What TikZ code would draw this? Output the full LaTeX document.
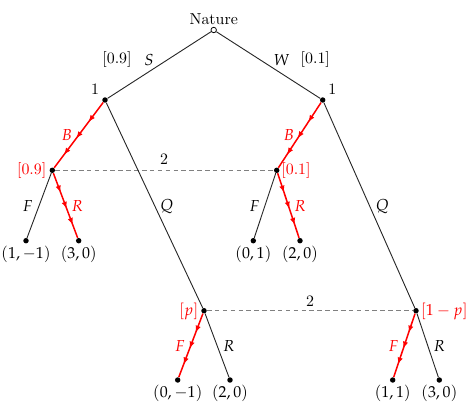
\documentclass[tikz,border=0pt]{standalone}
\usepackage{mathpazo}
\usetikzlibrary{arrows.meta,decorations.markings}

\tikzset{
    dot/.style={circle, fill=black, inner sep=0pt, minimum size=3.6pt},
    chance/.style={circle, draw=black, fill=white, line width=0.5pt, inner sep=0pt, minimum size=3.6pt},
    move/.style={line width=0.6pt, black!85},
    play/.style={red, line width=1pt, postaction={decorate},
        decoration={markings,
            mark=at position 0.3 with {\arrow{Latex[length=4.6pt,width=3.6pt]}},
            mark=at position 0.55 with {\arrow{Latex[length=4.6pt,width=3.6pt]}},
            mark=at position 0.8 with {\arrow{Latex[length=4.6pt,width=3.6pt]}}}},
    info/.style={gray, line width=0.55pt, dash pattern=on 3pt off 2.2pt},
    lab/.style={inner sep=0pt, font=\fontsize{10.5}{12}\selectfont},
    rlab/.style={lab, red},
}

\begin{document}
\begin{tikzpicture}[x=0.66pt, y=-0.66pt]
    \useasboundingbox (0,0) rectangle (474,412);

    % Decision nodes
    \node[chance] (nat) at (213.7,30) {};
    \node[dot] (a1) at (105,100) {};
    \node[dot] (a2) at (322.7,100) {};
    \node[dot] (b1) at (52.3,170.3) {};
    \node[dot] (b2) at (276.7,170.3) {};
    \node[dot] (c1) at (204,310.7) {};
    \node[dot] (c2) at (416,310.7) {};

    % Terminal nodes with payoffs
    \foreach \n/\x/\y/\pay in {
        {t1/26/240.7/(1,-1)}, {t2/78.7/240.7/(3,0)},
        {t3/253.3/240.7/(0,1)}, {t4/300/240.7/(2,0)},
        {t5/177.7/380/(0,-1)}, {t6/230/380/(2,0)},
        {t7/392.7/380/(1,1)}, {t8/439.3/380/(3,0)}} {
        \node[dot] (\n) at (\x,\y) {};
        \node[lab] (\n-pay) at (\x,\y+13.5) {$\pay$};
    }

    % Information sets of player 2
    \draw[info] (b1) -- (b2);
    \draw[info] (c1) -- (c2);

    % Moves
    \draw[move] (nat) -- (a1);
    \draw[move] (nat) -- (a2);
    \draw[move] (a1) -- (c1);
    \draw[move] (a2) -- (c2);
    \draw[move] (b1) -- (t1);
    \draw[move] (b2) -- (t3);
    \draw[move] (c1) -- (t6);
    \draw[move] (c2) -- (t8);

    % Equilibrium path
    \draw[play] (a1) -- (b1);
    \draw[play] (a2) -- (b2);
    \draw[play] (b1) -- (t2);
    \draw[play] (b2) -- (t4);
    \draw[play] (c1) -- (t5);
    \draw[play] (c2) -- (t7);

    % Labels
    \node[lab] (natlab) at (213.7,19.3) {Nature};
    \node[lab] (pS) at (117,60) {[0.9]};
    \node[lab] (mS) at (149,60) {$S$};
    \node[lab] (mW) at (281.7,60) {$W$};
    \node[lab] (pW) at (315.3,60) {[0.1]};
    \node[lab] (pl1a) at (95,89.3) {1};
    \node[lab] (pl1b) at (332.3,89.3) {1};
    \node[rlab] (mBa) at (66.7,135) {$B$};
    \node[rlab] (mBb) at (288.7,135) {$B$};
    \node[lab] (pl2a) at (164,159.3) {2};
    \node[rlab] (bel1) at (31.7,170.7) {[0.9]};
    \node[rlab] (bel2) at (296,170.7) {[0.1]};
    \node[lab] (mFa) at (27.7,206) {$F$};
    \node[rlab] (mRa) at (77.3,206) {$R$};
    \node[lab] (mQa) at (166.7,206.7) {$Q$};
    \node[lab] (mFb) at (254.3,206) {$F$};
    \node[rlab] (mRb) at (300,206) {$R$};
    \node[lab] (mQb) at (382.3,206.7) {$Q$};
    \node[lab] (pl2b) at (310,300.7) {2};
    \node[rlab] (bel3) at (188.7,311.7) {$[p]$};
    \node[rlab] (bel4) at (444.3,311.7) {$[1-p]$};
    \node[rlab] (mFc) at (180,346) {$F$};
    \node[lab] (mRc) at (228.7,346) {$R$};
    \node[rlab] (mFd) at (393.3,346) {$F$};
    \node[lab] (mRd) at (439.3,346) {$R$};

\end{tikzpicture}
\end{document}
